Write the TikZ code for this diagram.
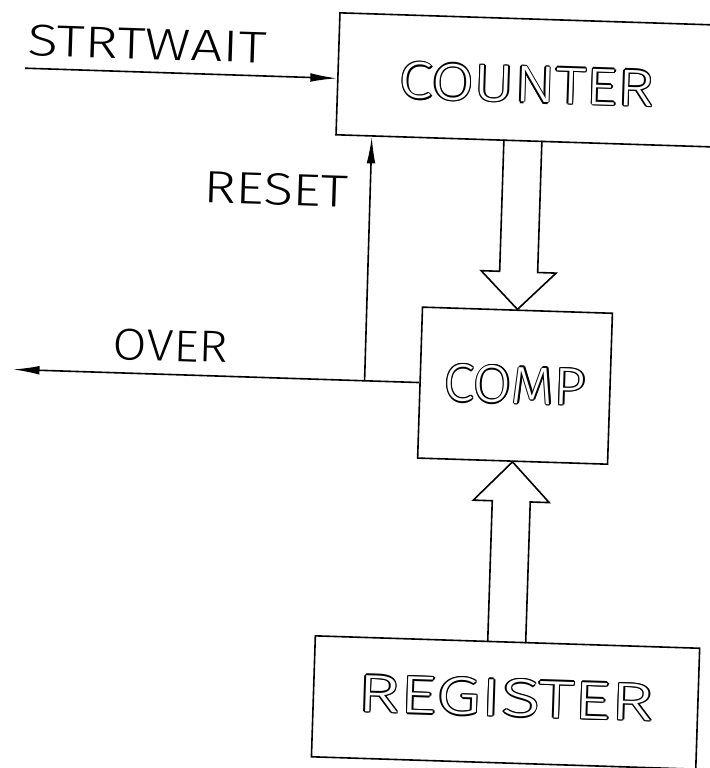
\documentclass[tikz,border=0pt]{standalone}
\usepackage{fontspec}
\usepackage{graphicx}
\usetikzlibrary{arrows.meta,calc}
\newfontfamily\linefont{Fira Sans Light}
\newfontfamily\hollowfont[Color=FFFFFF]{Fira Sans Light}

% hollow lettering: black copies around the glyphs, white glyphs on top
\newlength\outlinewd
\setlength\outlinewd{1.05pt}
\newcommand\outlined[3]{%
  \foreach \ang in {0,45,...,315}{%
    \pgfmathsetlengthmacro\odx{\outlinewd*cos(\ang)}%
    \pgfmathsetlengthmacro\ody{\outlinewd*sin(\ang)}%
    \rlap{\hspace*{\odx}\raisebox{\ody}{\resizebox{#1}{#2}{\linefont #3}}}}%
  \resizebox{#1}{#2}{\hollowfont #3}}

\begin{document}
\begin{tikzpicture}[x=0.75pt,y=-0.75pt,
  box/.style={draw, line width=1.2pt, inner sep=0pt},
  sig/.style={line width=1.2pt, -{Latex[length=20pt,width=6.5pt]}},
  bus/.style={line width=1.2pt, line join=miter},
  tag/.style={inner sep=0pt, anchor=base west},
  title/.style={inner sep=0pt}]
\useasboundingbox (0,0) rectangle (710,768);
\clip (0,0) rectangle (710,768);
\begin{scope}[rotate around={-1.85:(355,384)}, transform shape]
  % blocks
  \node[box, minimum width=316.5pt, minimum height=91.5pt] (counter) at (539,74.5) {};
  \node[box, minimum width=142.5pt, minimum height=113.25pt] (comp) at (515,380.5) {};
  \node[box, minimum width=288.4pt, minimum height=90.75pt] (register) at (515.75,697.5) {};

  % block titles
  \node[title] (counter-title) at (517,79) {\outlined{191.25pt}{27pt}{COUNTER}};
  \node[title] (comp-title) at (515,380) {\outlined{106.5pt}{27.5pt}{COMP}};
  \node[title] (register-title) at (516,693) {\outlined{222pt}{27.5pt}{REGISTER}};

  % signal names
  \node[tag] (strtwait-label) at (17,66) {\resizebox{179.25pt}{23.25pt}{\linefont STRTWAIT}};
  \node[tag] (reset-label) at (197,207.5) {\resizebox{108.75pt}{23.6pt}{\linefont RESET}};
  \node[tag] (over-label) at (112,367) {\resizebox{86.25pt}{23.25pt}{\linefont OVER}};

  % free ends of the signal lines
  \coordinate (strtwait-in) at (15,79);
  \coordinate (over-out) at (12.5,380.5);
  \coordinate (reset-tap) at (364.5,380.5);

  % signal lines
  \draw[sig] (strtwait-in) -- ($(counter.north west)!0.537!(counter.south west)$);
  \draw[sig] (comp.west) -- (over-out);
  \draw[sig] (reset-tap) -- ($(counter.south west)!0.0865!(counter.south east)$);

  % wide bus arrows
  \draw[bus] (comp.north) ++(-19,-169.5) -- ++(0,132) -- ++(-18.5,0) -- (comp.north)
             -- ++(37.5,-37.5) -- ++(-18.5,0) -- ++(0,-132);
  \draw[bus] (comp.south) ++(-19,181) -- ++(0,-141.5) -- ++(-19,0) -- (comp.south)
             -- ++(38,39.5) -- ++(-19,0) -- ++(0,141.5);
\end{scope}
\end{tikzpicture}
\end{document}
